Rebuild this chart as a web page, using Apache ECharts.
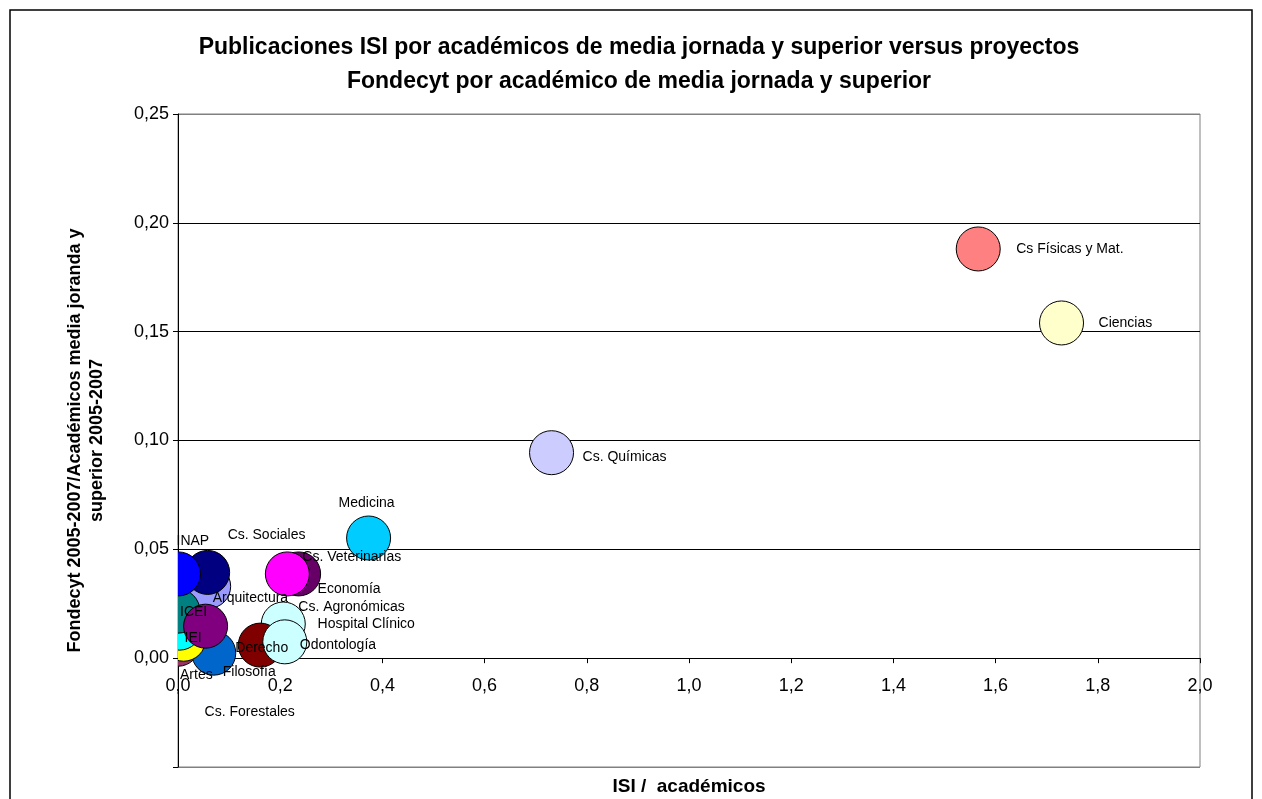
<!DOCTYPE html>
<html>
<head>
<meta charset="utf-8">
<script src="https://cdn.jsdelivr.net/npm/echarts@6/dist/echarts.min.js"></script>
<style>
  html, body { margin: 0; padding: 0; background: #fff; }
  #chart { width: 1262px; height: 799px; }
</style>
</head>
<body>
<div id="chart"></div>
<script>
// facultades / institutos, in drawing order (later ones sit on top)
const units = [
    'Arquitectura', 'Artes', 'Ciencias', 'Cs. Agronómicas', 'Economía',
    'Cs Físicas y Mat.', 'Filosofía', 'Cs. Químicas', 'Cs. Sociales',
    'Cs. Veterinarias', 'Cs. Forestales', 'IEI', 'ICEI', 'Hospital Clínico',
    'Derecho', 'INAP', 'Medicina', 'Odontología'
];
// ISI publications per academic (x)
const isiPerAcademic = [
    0.060, 0.000, 1.729, 0.206, 0.236,
    1.566, 0.070, 0.731, 0.058,
    0.214, 0.011, 0.003, 0.000, 0.054,
    0.161, 0.001, 0.373, 0.209
];
// Fondecyt projects per academic (y)
const fondecytPerAcademic = [
    0.0330, 0.0064, 0.1540, 0.0157, 0.0387,
    0.1880, 0.0023, 0.0944, 0.0394,
    0.0387, 0.0087, 0.0138, 0.0216, 0.0147,
    0.0060, 0.0387, 0.0552, 0.0075
];

const bubbleColors = [
    '#9999FF', '#993366', '#FFFFCC', '#CCFFFF', '#660066',
    '#FF8080', '#0066CC', '#CCCCFF', '#000080',
    '#FF00FF', '#FFFF00', '#00FFFF', '#008080', '#800080',
    '#800000', '#0000FF', '#00CCFF', '#CCFFFF'
];
// label placement: px from bubble centre to the label's left-middle point
const labelOffsets = [
    [4, 12], [2, 31], [37, 0], [15, -17], [19, 15],
    [38, 0], [9, 19], [31, 4], [20, -37],
    [15, -17], [21, 73], [5, 10], [2, 1], [112, -2],
    [-25, 3], [-2, -33], [-30, -35], [15, 3]
];

const FONT = "'Liberation Sans', Arial, sans-serif";
const BUBBLE_R = 22;

const points = units.map((u, i) => [isiPerAcademic[i], fondecytPerAcademic[i], u]);

const chart = echarts.init(document.getElementById('chart'));

chart.setOption({
    animation: false,
    backgroundColor: '#fff',
    title: {
        text: 'Publicaciones ISI por académicos de media jornada y superior versus proyectos\nFondecyt por académico de media jornada y superior',
        left: 639,
        top: 31,
        padding: 0,
        textAlign: 'center',
        textStyle: {
            fontFamily: FONT,
            fontSize: 23,
            fontWeight: 'bold',
            lineHeight: 34,
            color: '#000'
        }
    },
    graphic: [{
        type: 'rect',
        silent: true,
        shape: { x: 10, y: 10, width: 1242, height: 820 },
        style: { fill: 'none', stroke: '#000', lineWidth: 1.5 }
    }],
    grid: {
        left: 178,
        right: 62,
        top: 114,
        bottom: 32,
        containLabel: false,
        outerBoundsMode: 'none',
        show: true,
        backgroundColor: 'transparent',
        borderColor: '#808080',
        borderWidth: 1
    },
    xAxis: {
        type: 'value',
        min: 0,
        max: 2,
        interval: 0.2,
        name: 'ISI /  académicos',
        nameLocation: 'middle',
        nameGap: 10,
        nameTextStyle: { fontFamily: FONT, fontSize: 19, fontWeight: 'bold', color: '#000' },
        axisLine: { onZero: true, lineStyle: { color: '#000', width: 1 } },
        axisTick: { show: true, length: 5, lineStyle: { color: '#000' } },
        axisLabel: {
            // labels sit under the zero line, well above the plot's lower edge
            margin: -90,
            fontFamily: FONT,
            fontSize: 18,
            color: '#000',
            formatter: v => v.toFixed(1).replace('.', ',')
        },
        splitLine: { show: false }
    },
    yAxis: {
        type: 'value',
        min: -0.05,
        max: 0.25,
        interval: 0.05,
        name: 'Fondecyt 2005-2007/Académicos media joranda y\nsuperior 2005-2007',
        nameLocation: 'middle',
        nameGap: 70,
        nameTextStyle: { fontFamily: FONT, fontSize: 18, fontWeight: 'bold', color: '#000', lineHeight: 22 },
        axisLine: { show: true, lineStyle: { color: '#000', width: 1 } },
        axisTick: { show: true, length: 5, lineStyle: { color: '#000' } },
        axisLabel: {
            margin: 9,
            fontFamily: FONT,
            fontSize: 18,
            color: '#000',
            formatter: v => (v < -1e-9 ? '' : v.toFixed(2).replace('.', ','))
        },
        splitLine: {
            show: true,
            lineStyle: {
                color: ['#808080', '#000', '#000', '#000', '#000', '#000', '#808080'],
                width: 1
            }
        }
    },
    series: [
        {
            name: 'bubbles',
            type: 'custom',
            clip: true,
            data: points,
            encode: { x: 0, y: 1 },
            renderItem: function (params, api) {
                const p = api.coord([api.value(0), api.value(1)]);
                return {
                    type: 'circle',
                    shape: { cx: p[0], cy: p[1], r: BUBBLE_R },
                    style: {
                        fill: bubbleColors[params.dataIndex],
                        stroke: '#000',
                        lineWidth: 1
                    }
                };
            }
        },
        {
            name: 'labels',
            type: 'custom',
            clip: false,
            data: points,
            encode: { x: 0, y: 1 },
            renderItem: function (params, api) {
                const p = api.coord([api.value(0), api.value(1)]);
                const off = labelOffsets[params.dataIndex];
                return {
                    type: 'text',
                    x: p[0] + off[0],
                    y: p[1] + off[1],
                    style: {
                        text: units[params.dataIndex],
                        fontFamily: FONT,
                        fontSize: 14,
                        fill: '#000',
                        align: 'left',
                        verticalAlign: 'middle'
                    }
                };
            }
        }
    ]
});
</script>
</body>
</html>
